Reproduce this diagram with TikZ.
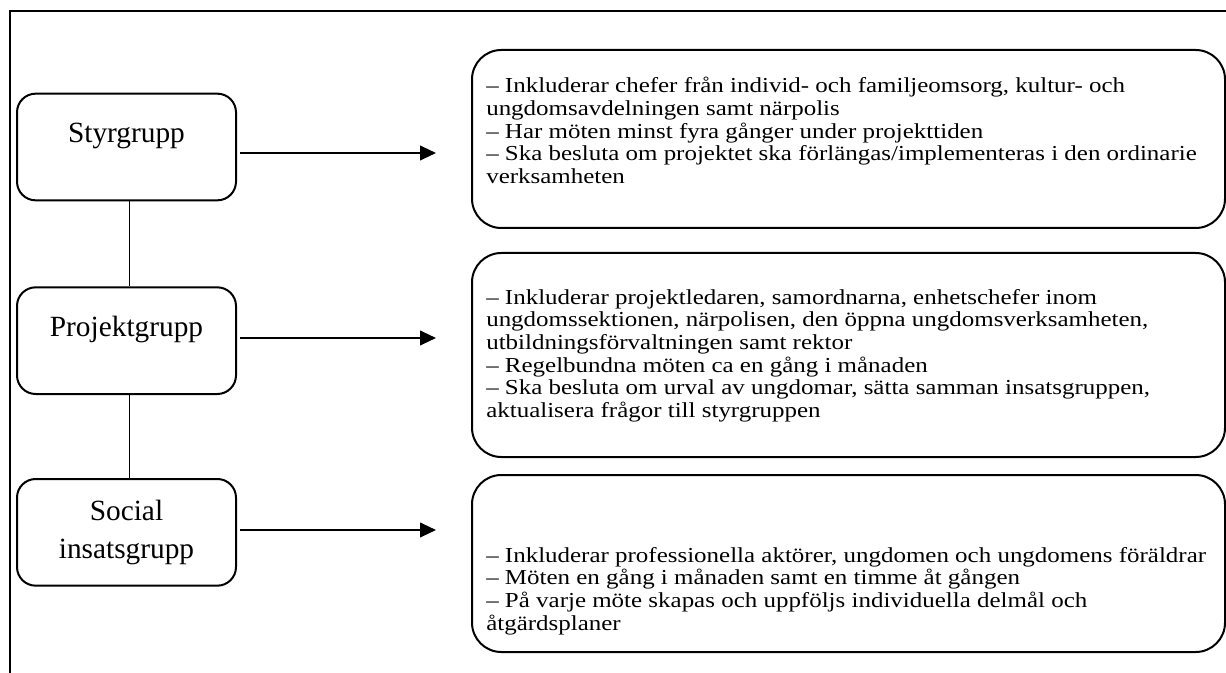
\documentclass[tikz,border=0pt]{standalone}
\usepackage{fontspec}
\setmainfont{Liberation Serif}
\newfontfamily\infofont[FakeStretch=1.17]{Liberation Serif}
\usetikzlibrary{positioning,arrows.meta}
\tikzstyle{group} = [rectangle, rounded corners=14pt, draw=black, line width=1.5pt, minimum width=164.25pt, minimum height=80pt, inner sep=0pt, text centered, align=center, font=\fontsize{22}{29}\selectfont]
\tikzstyle{oneline} = [text height=12pt, text depth=18pt]
\tikzstyle{info} = [rectangle, rounded corners=22pt, draw=black, line width=1.5pt, minimum width=564.75pt, inner sep=0pt]
\tikzstyle{infotext} = [anchor=north west, align=left, inner sep=0pt, font=\infofont\fontsize{16}{17}\selectfont]
\tikzstyle{line} = [draw, line width=1.5pt, shorten <=2.25pt, -{Triangle[length=12pt, width=11pt]}]
\tikzstyle{link} = [draw, line width=0.75pt]

\begin{document}
\begin{tikzpicture}[x=0.75pt, y=-0.75pt]
			\useasboundingbox (0,0) rectangle (1226,673);
			% Frame
			\draw[line width=1.5pt] (9.5,690) |- (1240,11);
			% Place nodes
			\node [group, oneline] (styr) at (126.5,147) {Styrgrupp};
			\node [group, oneline, below=63.75pt of styr] (proj) {Projektgrupp};
			\node [group, below=62.25pt of proj] (social) {Social\\insatsgrupp};
			\node [info, minimum height=133.5pt] (r1) at (848.5,139) {};
			\node [info, minimum height=153pt] (r2) at (848.5,355) {};
			\node [info, minimum height=132.75pt] (r3) at (848.5,563.5) {};
			\node [infotext] (t1) at (486,77) {%
				– Inkluderar chefer från individ- och familjeomsorg, kultur- och\\
				ungdomsavdelningen samt närpolis\\
				– Har möten minst fyra gånger under projekttiden\\
				– Ska besluta om projektet ska förlängas/implementeras i den ordinarie\\
				verksamheten};
			\node [infotext] (t2) at (486,289) {%
				– Inkluderar projektledaren, samordnarna, enhetschefer inom\\
				ungdomssektionen, närpolisen, den öppna ungdomsverksamheten,\\
				utbildningsförvaltningen samt rektor\\
				– Regelbundna möten ca en gång i månaden\\
				– Ska besluta om urval av ungdomar, sätta samman insatsgruppen,\\
				aktualisera frågor till styrgruppen};
			\node [infotext] (t3) at (486,547) {%
				– Inkluderar professionella aktörer, ungdomen och ungdomens föräldrar\\
				– Möten en gång i månaden samt en timme åt gången\\
				– På varje möte skapas och uppföljs individuella delmål och\\
				åtgärdsplaner};
			\coordinate (a1) at (436,153);
			\coordinate (a2) at (436,338);
			\coordinate (a3) at (436,530);
			% Draw edges
			\path [link] ([xshift=2.6pt]styr.south) -- ([xshift=2.6pt]proj.north);
			\path [link] ([xshift=2.6pt]proj.south) -- ([xshift=2.6pt]social.north);
			\path [line] (styr.east |- a1) -- (a1);
			\path [line] (proj.east |- a2) -- (a2);
			\path [line] (social.east |- a3) -- (a3);
\end{tikzpicture}
\end{document}
